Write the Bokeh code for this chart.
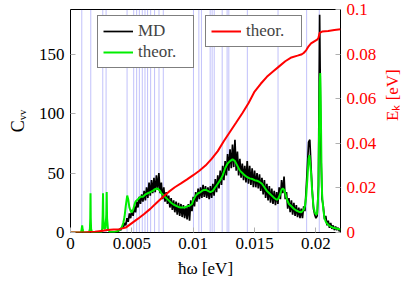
import math
import numpy as np
from bokeh.plotting import figure
from bokeh.models import Range1d, LinearAxis, FixedTicker, Legend, LegendItem
from bokeh.embed import file_html
from bokeh.resources import INLINE
from bokeh.core.properties import value

# ---------------- data ----------------
X_TICKS = [0, 0.005, 0.01, 0.015, 0.02]
X_TICK_LABELS = ["0", "0.005", "0.01", "0.015", "0.02"]
Y_TICKS = [0, 50, 100, 150]
Y_TICK_LABELS = ["0", "50", "100", "150"]
EK_TICKS = [0, 0.02, 0.04, 0.06, 0.08, 0.1]
EK_TICK_LABELS = ["0", "0.02", "0.04", "0.06", "0.08", "0.1"]

X_MIN, X_MAX = 0.0, 0.022
Y_MIN, Y_MAX = 0.0, 187.5
EK_MIN, EK_MAX = 0.0, 0.1

X_LABEL = "ħω [eV]"
Y_LABEL = "Cᵥᵥ"
EK_LABEL = "Eₖ [eV]"

# vertical mode lines (eV)
MODE_X = [0.00092, 0.00165, 0.00263, 0.0029, 0.00461, 0.00515, 0.00539, 0.00561,
          0.00585, 0.00607, 0.00628, 0.00653, 0.00685, 0.00721, 0.00756, 0.01002,
          0.01046, 0.01067, 0.01138, 0.01154, 0.01171, 0.01236, 0.01276, 0.0129,
          0.01441, 0.01691, 0.01924, 0.02027]

# MD spectrum, sampled every 0.0001 eV starting at 0.0038 eV
MD_X0 = 0.0038
MD_DX = 0.0001
MD_Y = [0, 1, 3, 2, 5, 4, 8, 6, 12, 9,
        16, 12, 19, 14, 22, 17, 26, 21, 30, 24,
        32, 26, 35, 27, 38, 29, 42, 31, 44, 33,
        46, 34, 48, 36, 50, 33, 42, 28, 38, 26,
        34, 24, 31, 21, 29, 19, 27, 17, 26, 15,
        25, 14, 24, 13, 23, 12, 22, 11, 24, 10,
        27, 18, 30, 22, 34, 26, 37, 28, 38, 29,
        40, 30, 39, 29, 38, 28, 39, 29, 41, 31,
        45, 34, 48, 37, 52, 40, 56, 44, 60, 48,
        66, 52, 70, 54, 74, 55, 78, 52, 68, 48,
        62, 46, 58, 44, 56, 42, 60, 41, 56, 40,
        54, 38, 52, 38, 50, 37, 49, 35, 46, 32,
        44, 29, 41, 27, 39, 25, 37, 24, 35, 23,
        34, 24, 38, 28, 44, 33, 47, 28, 34, 20,
        29, 17, 27, 15, 25, 14, 23, 13, 21, 12,
        20, 12, 22, 18, 36, 55, 76, 78, 55, 35,
        20, 15, 12, 14, 40, 183, 70, 28, 22, 11,
        14, 6, 10, 4, 8, 3, 6, 2, 5, 2,
        4, 1, 3]

# theory spectrum
THEOR_X = [0, 0.00085, 0.0009, 0.00095, 0.001, 0.00105,
           0.0015, 0.00158, 0.00161, 0.00163, 0.00165, 0.00168, 0.00175,
           0.0025, 0.00258, 0.00262, 0.00265, 0.00268, 0.00275, 0.00285,
           0.00292, 0.00295, 0.00298, 0.00305, 0.0032, 0.0036, 0.0039,
           0.0041, 0.0042, 0.0043, 0.0044, 0.0045, 0.00462, 0.0047, 0.0048,
           0.0049, 0.005, 0.0051, 0.0052, 0.0053, 0.0055, 0.0057, 0.0059,
           0.0061, 0.0063, 0.0065, 0.0067, 0.0069, 0.0071, 0.0072, 0.0073,
           0.0074, 0.0076, 0.0078, 0.008, 0.0082, 0.0084, 0.0086, 0.0088,
           0.009, 0.0093, 0.0095, 0.0097, 0.0099, 0.01, 0.0102, 0.0104,
           0.0106, 0.0108, 0.011, 0.0112, 0.0114, 0.0116, 0.0118, 0.012,
           0.0122, 0.0124, 0.0126, 0.0128, 0.013, 0.0132, 0.0134, 0.0136,
           0.0138, 0.014, 0.0142, 0.0144, 0.0146, 0.0148, 0.015, 0.0152,
           0.0154, 0.0156, 0.0158, 0.016, 0.0162, 0.0164, 0.0166, 0.0168,
           0.0169, 0.017, 0.0171, 0.0172, 0.0173, 0.0174, 0.0175, 0.0176,
           0.0177, 0.0178, 0.018, 0.0182, 0.0184, 0.0186, 0.0188, 0.019,
           0.0191, 0.0192, 0.0193, 0.0194, 0.01947, 0.0196, 0.0197, 0.0198,
           0.0199, 0.02, 0.0201, 0.0202, 0.02025, 0.0203, 0.02035, 0.0204,
           0.02045, 0.0205, 0.0206, 0.0207, 0.0208, 0.0209, 0.021, 0.0212,
           0.0214, 0.0216, 0.0218, 0.022]
THEOR_Y = [0, 0, 2, 6, 2, 0,
           0, 3, 12, 33, 12, 3, 0,
           0, 3, 14, 33, 12, 3, 4,
           15, 34, 12, 3, 0.5, 0.5, 1.5,
           3, 5, 8, 13, 22, 31, 28, 21,
           18, 17, 19, 23, 26, 28, 30, 30,
           32, 33, 34, 35, 36.5, 37, 36, 35,
           33, 31, 29, 27, 25, 23.5, 22.5, 21.5,
           21, 21, 22, 22.5, 24, 27, 31, 33,
           34, 35.5, 36, 35, 34, 35, 38, 41,
           44, 48, 54, 58, 60, 61.5, 60, 56,
           52, 50, 48, 46.5, 45.5, 45, 44, 43.5,
           42.5, 41, 38, 35, 33, 31, 29, 27.5,
           28, 30, 33, 36, 37, 36, 33, 29,
           26, 24, 22, 20, 18.5, 17.5, 17, 19,
           22, 30, 45, 62, 65, 50, 33, 22,
           17, 15, 16, 35, 80, 125, 134, 100,
           55, 32, 19, 12, 9, 7.5, 6.5, 5,
           4, 3.5, 3, 2.5]

# kinetic energy (right axis)
EK_X = [0, 0.001, 0.002, 0.0025, 0.003, 0.0035, 0.004, 0.0045, 0.005, 0.0055,
        0.006, 0.0065, 0.007, 0.0075, 0.008, 0.0085, 0.009, 0.0095, 0.01, 0.0105,
        0.011, 0.0115, 0.012, 0.0125, 0.013, 0.0135, 0.014, 0.0145, 0.015, 0.0155,
        0.016, 0.0165, 0.017, 0.0175, 0.018, 0.0185, 0.0188, 0.019, 0.0192, 0.0194,
        0.0196, 0.0198, 0.0201, 0.0202, 0.0203, 0.0205, 0.021, 0.0215, 0.022]
EK_Y = [0, 0, 0.0003, 0.0007, 0.0011, 0.0013, 0.0015, 0.0022, 0.0042, 0.0062,
        0.0083, 0.0106, 0.0132, 0.0158, 0.0182, 0.0203, 0.022, 0.0238, 0.0257, 0.0277,
        0.03, 0.033, 0.0365, 0.041, 0.0452, 0.0493, 0.0535, 0.058, 0.0632, 0.0667,
        0.0698, 0.0722, 0.0745, 0.0768, 0.0785, 0.0793, 0.0798, 0.0805, 0.0817, 0.0835,
        0.0848, 0.0855, 0.0865, 0.0872, 0.0895, 0.0901, 0.0904, 0.0908, 0.0911]

LEGEND_MD = "MD"
LEGEND_THEOR = "theor."

# ---------------- plot ----------------
FONT = "'Liberation Serif', serif"
FS = "17px"
RED = "#ff0000"

md_x = [MD_X0 + MD_DX * i for i in range(len(MD_Y))]

p = figure(frame_width=270, frame_height=223, output_backend="svg",
           toolbar_location=None, x_range=Range1d(X_MIN, X_MAX),
           y_range=Range1d(Y_MIN, Y_MAX),
           min_border_left=70, min_border_right=74, min_border_top=9,
           min_border_bottom=52)
p.extra_y_ranges = {"ek": Range1d(EK_MIN, EK_MAX)}
p.grid.visible = False
p.outline_line_color = "black"
p.outline_line_width = 1
p.background_fill_color = "white"
p.border_fill_color = "white"

def style_axis(ax, ticks, labels, color="black"):
    ax.ticker = FixedTicker(ticks=ticks)
    ax.major_label_overrides = {t: l for t, l in zip(ticks, labels)}
    ax.major_label_text_font = FONT
    ax.major_label_text_font_size = FS
    ax.major_label_text_color = color
    ax.major_tick_in = 5
    ax.major_tick_out = 0
    ax.major_tick_line_color = "#b0b0b0"
    ax.minor_tick_line_color = None
    ax.axis_line_color = None
    ax.major_label_standoff = 6
    ax.axis_label_text_font = FONT
    ax.axis_label_text_font_size = FS
    ax.axis_label_text_font_style = "normal"
    ax.axis_label_text_color = color

xax = p.xaxis[0]
style_axis(xax, X_TICKS, X_TICK_LABELS)
xax.major_label_standoff = 5
xax.axis_label = X_LABEL
xax.axis_label_standoff = 7

yax = p.yaxis[0]
style_axis(yax, Y_TICKS, Y_TICK_LABELS)
yax.axis_label = Y_LABEL
yax.axis_label_standoff = 8
yax.axis_label_text_font_size = "18px"

rax = LinearAxis(y_range_name="ek")
style_axis(rax, EK_TICKS, EK_TICK_LABELS, color=RED)
rax.axis_label = EK_LABEL
rax.axis_label_standoff = 13
rax.axis_label_orientation = math.pi / 2
p.add_layout(rax, "right")

# mode lines
p.segment(x0=MODE_X, x1=MODE_X, y0=[Y_MIN] * len(MODE_X), y1=[Y_MAX] * len(MODE_X),
          line_color="#3333ee", line_alpha=0.3, line_width=1)

r_md = p.line(md_x, MD_Y, line_color="black", line_width=1.7)
r_th = p.line(THEOR_X, THEOR_Y, line_color="#00ee00", line_width=2)
r_ek = p.line(EK_X, EK_Y, line_color=RED, line_width=2, y_range_name="ek")

def style_legend(leg):
    leg.label_text_font = FONT
    leg.label_text_font_size = FS
    leg.border_line_color = "black"
    leg.border_line_width = 1
    leg.background_fill_color = "white"
    leg.background_fill_alpha = 1
    leg.glyph_width = 30
    leg.glyph_height = 20
    leg.label_height = 20
    leg.label_width = 50
    leg.label_standoff = 5
    leg.padding = 5
    leg.spacing = 1
    leg.margin = 0

leg1 = Legend(items=[LegendItem(label=value(LEGEND_MD), renderers=[r_md]),
                     LegendItem(label=value(LEGEND_THEOR), renderers=[r_th])],
              location=(27, 164))
style_legend(leg1)
leg2 = Legend(items=[LegendItem(label=value(LEGEND_THEOR), renderers=[r_ek])],
              location=(135, 185))
style_legend(leg2)
p.add_layout(leg1, "center")
p.add_layout(leg2, "center")

open("out.html", "w").write(file_html(p, INLINE))
